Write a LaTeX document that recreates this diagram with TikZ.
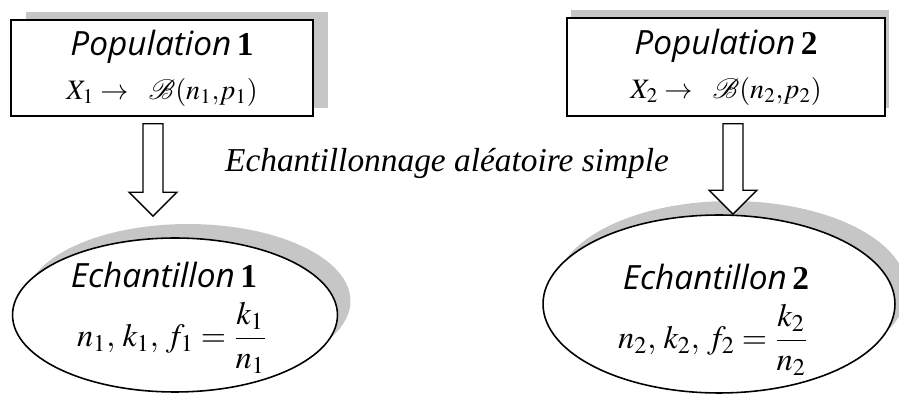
\documentclass[tikz,border=0pt]{standalone}
\usepackage{amsmath}
\usepackage{mathptmx}
\usepackage{fontspec}
\setmainfont{Liberation Serif}
\newfontfamily\comicfont{Open Sans}
\usetikzlibrary{shapes.geometric, shadows, calc}

\newcommand{\comictitle}[2]{{\fontsize{19}{25}\selectfont{\comicfont\itshape #1}\,\textbf{#2}}}

\tikzset{
    popbox/.style={draw, rectangle, fill=white, line width=0.9pt, align=center,
        font=\fontsize{16}{25}\selectfont},
    echell/.style={draw, ellipse, fill=white, line width=0.9pt},
    greyshadow/.style={drop shadow={shadow xshift=#1, shadow yshift=0.16cm,
        fill=gray!45, opacity=1}},
    ovalshadow/.style={drop shadow={shadow xshift=#1, shadow yshift=0.28cm,
        fill=gray!45, opacity=1}},
    fatarrow/.style={draw, fill=white, line width=0.8pt, line join=miter}
}

% block arrow from a top point to a tip point
\newcommand{\blockarrow}[2]{
    \draw[fatarrow] ($(#1)+(-10,0)$) -- ($(#2)+(-10,-24)$) -- ($(#2)+(-24,-24)$)
        -- (#2) -- ($(#2)+(24,-24)$) -- ($(#2)+(10,-24)$) -- ($(#1)+(10,0)$) -- cycle;
}

\begin{document}
\begin{tikzpicture}[x=0.02cm, y=-0.02cm]
    \useasboundingbox (0,0) rectangle (899,394);

    % Populations
    \node[popbox, minimum width=6.04cm, minimum height=1.92cm, greyshadow=0.3cm] (pop1) at (162,68)
        {\comictitle{Population}{1}\\ $X_1 \rightarrow\ \ \mathcal{B}(n_1{,}p_1)$};
    \node[popbox, minimum width=6.36cm, minimum height=1.96cm, greyshadow=0.08cm] (pop2) at (726,67)
        {\comictitle{Population}{2}\\ $X_2 \rightarrow\ \ \mathcal{B}(n_2{,}p_2)$};

    % Samples
    \node[echell, minimum width=6.5cm, minimum height=3.08cm, ovalshadow=0.26cm] (ech1) at (175,315) {};
    \node[echell, minimum width=7.04cm, minimum height=3.56cm, ovalshadow=0.24cm] (ech2) at (719,304) {};
    \node[anchor=base] (ech1t) at ($(ech1)+(-11,-27)$) {\comictitle{Echantillon}{1}};
    \node[font=\fontsize{18.5}{22}\selectfont] (ech1m) at ($(ech1)+(-3,23)$)
        {$n_1,\, k_1,\, f_1 = \dfrac{k_1}{n_1}$};
    \node[anchor=base] (ech2t) at ($(ech2)+(-3,-14)$) {\comictitle{Echantillon}{2}};
    \node[font=\fontsize{18.5}{22}\selectfont] (ech2m) at ($(ech2)+(-6,36)$)
        {$n_2,\, k_2,\, f_2 = \dfrac{k_2}{n_2}$};

    % Sampling
    \node[font=\fontsize{19}{22}\selectfont\itshape] (tirage) at (447,163) {Echantillonnage aléatoire simple};

    \coordinate (top1) at ($(pop1.south)+(-9,7)$);
    \coordinate (tip1) at ($(ech1.north)+(-22,-21)$);
    \coordinate (top2) at ($(pop2.south)+(7,7)$);
    \coordinate (tip2) at ($(ech2.north)+(14,0)$);
    \blockarrow{top1}{tip1}
    \blockarrow{top2}{tip2}
\end{tikzpicture}
\end{document}
